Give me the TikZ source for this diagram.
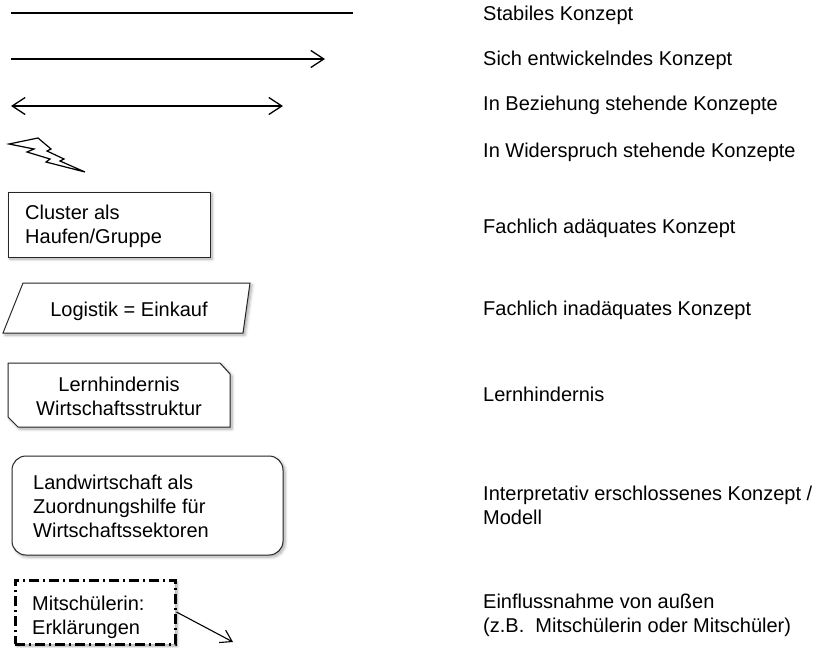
\documentclass[tikz,border=0pt]{standalone}
\usepackage{fontspec}
\setmainfont{Liberation Sans}
\usetikzlibrary{arrows.meta,shadows.blur}
\begin{document}
\begin{tikzpicture}[x=1pt,y=-1pt,
  lbl/.style={anchor=base west,inner sep=0pt,align=left,font=\fontsize{20}{23.7}\selectfont},
  btxt/.style={inner sep=0pt,font=\fontsize{20}{23.7}\selectfont},
  legline/.style={line width=1.3pt},
  vtip/.style={-{Straight Barb[length=13pt,width=17pt,line width=1.3pt]}},
  sh/.style={blur shadow={shadow xshift=2pt,shadow yshift=-2pt,shadow blur steps=6,shadow opacity=35,shadow blur radius=3pt}},
  boxline/.style={draw=black!85,line width=1pt,fill=white,sh},
  shapebox/.style={rectangle,inner sep=0pt,boxline}
]
\useasboundingbox (0,0) rectangle (817,648);

% legend symbols
\coordinate (s1) at (11,13); \coordinate (e1) at (353,13);
\draw[legline] (s1) -- (e1);
\coordinate (s2) at (11,59); \coordinate (e2) at (325,59);
\draw[legline,vtip] (s2) -- (e2);
\coordinate (s3) at (11,106); \coordinate (e3) at (283,106);
\draw[legline,{Straight Barb[length=13pt,width=17pt,line width=1.3pt]}-{Straight Barb[length=13pt,width=17pt,line width=1.3pt]}] (s3) -- (e3);

% lightning
\draw[line width=1.2pt,line join=miter,fill=white] (9,144) -- (38,138) -- (51,149) -- (47,151) -- (64,159) -- (60,161) -- (85,172) -- (46,162) -- (50,159) -- (27,152) -- (34,149) -- cycle;

% cluster box
\node[shapebox,minimum width=202pt,minimum height=65pt] (cluster) at (109,224.5) {};
\node[lbl] (clustertxt) at (25,243) {Cluster als\\Haufen/Gruppe};

% parallelogram
\draw[boxline] (23,283) -- (250,283) -- (243,333) -- (3,333) -- cycle;
\node[btxt,anchor=base] (logistik) at (129,316) {Logistik = Einkauf};

% Lernhindernis box
\draw[boxline] (8,363) -- (220,363) -- (230,374) -- (230,427) -- (18,427) -- (8,417) -- cycle;
\node[lbl,align=center,anchor=base] (lern) at (119,415) {Lernhindernis\\Wirtschaftsstruktur};

% rounded box
\draw[boxline,rounded corners=14pt] (12,456) rectangle (283,555);
\node[lbl] (land) at (33,537) {Landwirtschaft als\\Zuordnungshilfe für\\Wirtschaftssektoren};

% dash-dot box
\node[rectangle,minimum width=160pt,minimum height=64pt,inner sep=0pt,fill=white,sh,draw=black,line width=3pt,dash pattern=on 10pt off 4pt on 2pt off 4pt] (mit) at (95,612) {};
\node[lbl] (mittxt) at (32,634) {Mitschülerin:\\Erklärungen};
\coordinate (mitend) at (233,642);
\draw[line width=1.1pt,-{Straight Barb[length=11pt,width=14pt,line width=1.1pt]}] (mit.east) -- (mitend);

% labels
\node[lbl] (l1) at (483,20) {Stabiles Konzept};
\node[lbl] (l2) at (483,65) {Sich entwickelndes Konzept};
\node[lbl] (l3) at (483,110) {In Beziehung stehende Konzepte};
\node[lbl] (l4) at (483,157) {In Widerspruch stehende Konzepte};
\node[lbl] (l5) at (483,233) {Fachlich adäquates Konzept};
\node[lbl] (l6) at (483,315) {Fachlich inadäquates Konzept};
\node[lbl] (l7) at (483,401) {Lernhindernis};
\node[lbl] (l8) at (483,524) {Interpretativ erschlossenes Konzept /\\Modell};
\node[lbl] (l9) at (483,632) {Einflussnahme von außen\\(z.B.\ \ Mitschülerin oder Mitschüler)};
\end{tikzpicture}
\end{document}
